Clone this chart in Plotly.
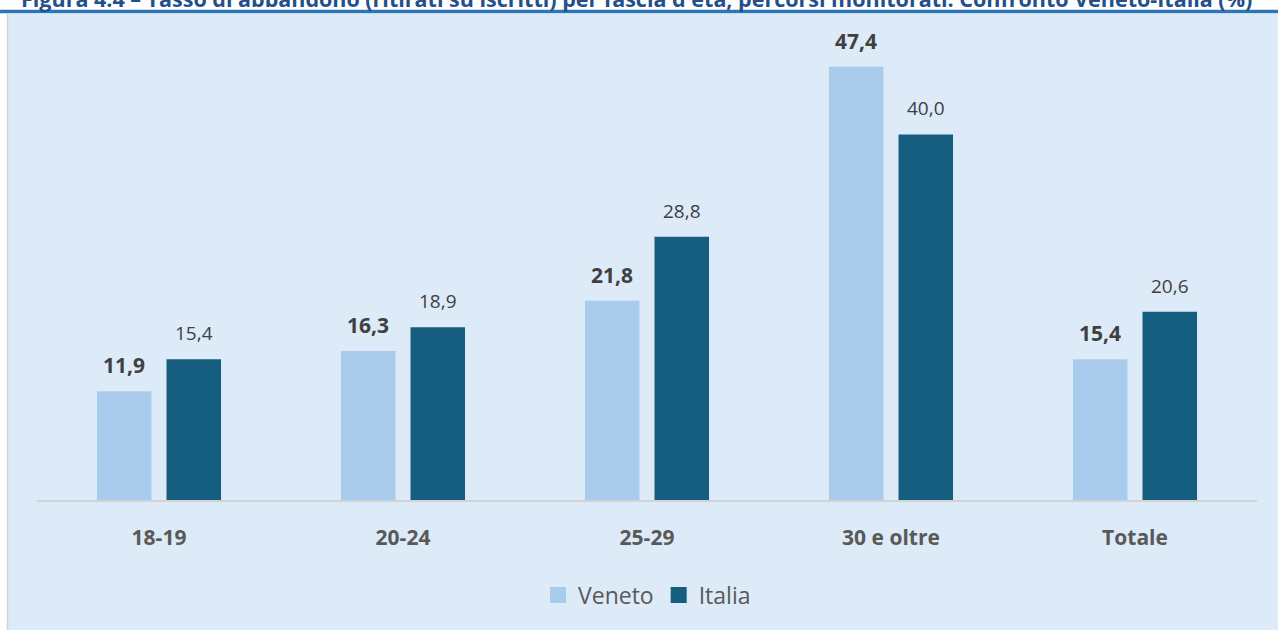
import plotly.graph_objects as go

categories = ["18-19", "20-24", "25-29", "30 e oltre", "Totale"]
veneto = [11.9, 16.3, 21.8, 47.4, 15.4]
italia = [15.4, 18.9, 28.8, 40.0, 20.6]
series_names = ["Veneto", "Italia"]
series_colors = ["#A9CCEC", "#155E80"]
title_text = "Figura 4.4 – Tasso di abbandono (ritirati su iscritti) per fascia d'età, percorsi monitorati. Confronto Veneto-Italia (%)"

W, H = 1278, 630
ML, MR, MT, MB = 37, 21, 43, 130
PW = W - ML - MR
PH = H - MT - MB

def px_x(px):
    return (px - ML) / PW

def px_y(py):
    return (H - MB - py) / PH

def fmt(v):
    return f"{v:.1f}".replace(".", ",")

fig = go.Figure()
for name, vals, col in zip(series_names, [veneto, italia], series_colors):
    fig.add_trace(go.Bar(name=name, x=categories, y=vals, marker_color=col,
                         marker_line_width=0, showlegend=False))
for name, col in zip(series_names, series_colors):
    fig.add_trace(go.Scatter(name=name, x=[None], y=[None], mode="markers",
                             marker=dict(symbol="square", size=17, color=col), showlegend=True))

annotations = []
for c, v in zip(categories, veneto):
    annotations.append(dict(x=c, y=v, xref="x", yref="y", text=fmt(v), showarrow=False,
                            xshift=-35, yshift=26, yanchor="middle",
                            font=dict(family="Open Sans", size=21, color="#404040", weight="bold")))
for c, v in zip(categories, italia):
    annotations.append(dict(x=c, y=v, xref="x", yref="y", text=fmt(v), showarrow=False,
                            xshift=35, yshift=26, yanchor="middle",
                            font=dict(family="Open Sans", size=19, color="#404040")))
annotations.append(dict(x=px_x(636), y=px_y(-1), xref="paper", yref="paper", text="<b>" + title_text + "</b>",
                        showarrow=False, xanchor="center", yanchor="middle",
                        font=dict(family="Open Sans", size=21.5, color="#244F8A")))

shapes = [
    dict(type="rect", xref="paper", yref="paper", x0=px_x(8), x1=px_x(1290), y0=px_y(14), y1=px_y(640),
         fillcolor="#DDEAF7", line_width=0, layer="below"),
    dict(type="line", xref="paper", yref="paper", x0=px_x(7.5), x1=px_x(7.5), y0=px_y(14), y1=px_y(640),
         line=dict(color="#D0D4D8", width=1.5), layer="below"),
    dict(type="line", xref="paper", yref="paper", x0=px_x(0), x1=px_x(1290), y0=px_y(11.5), y1=px_y(11.5),
         line=dict(color="#2E75B6", width=3.5), layer="below"),
]

fig.update_layout(
    width=W, height=H,
    margin=dict(l=ML, r=MR, t=MT, b=MB),
    paper_bgcolor="white",
    plot_bgcolor="rgba(0,0,0,0)",
    barmode="group",
    bargap=0.43,
    bargroupgap=0.216,
    showlegend=True,
    legend=dict(orientation="h", x=0.5, xanchor="center", y=px_y(595), yanchor="middle",
                font=dict(family="Open Sans", size=23, color="#595959"),
                itemwidth=30, itemsizing="trace", bgcolor="rgba(0,0,0,0)"),
    annotations=annotations,
    shapes=shapes,
    xaxis=dict(showline=True, linecolor="#D0D2D4", linewidth=2, showgrid=False,
               ticks="", ticklabelstandoff=18,
               tickfont=dict(family="Open Sans", size=21, color="#595959", weight="bold")),
    yaxis=dict(range=[0, 50], visible=False, showgrid=False),
)

fig.write_html("out.html", config={"displayModeBar": False},
               post_script="document.body.style.margin='0';document.body.style.overflow='hidden';")
